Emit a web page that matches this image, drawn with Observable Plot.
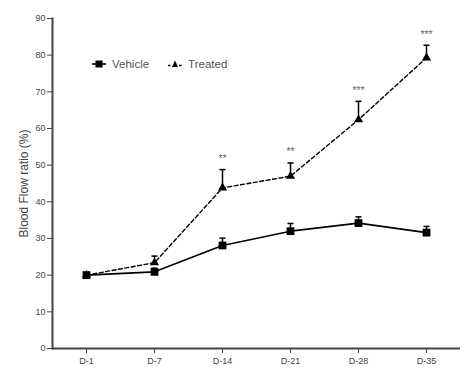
<!DOCTYPE html>
<html>
<head>
<meta charset="utf-8">
<script src="https://cdn.jsdelivr.net/npm/d3@7"></script>
<script src="https://cdn.jsdelivr.net/npm/@observablehq/plot@0.6"></script>
<style>
  body { margin: 0; background: #fff; }
  #wrap { position: relative; width: 467px; height: 385px; font-family: "Liberation Sans", Arial, sans-serif; }
  #legend { position: absolute; left: 91px; top: 58px; display: flex; font-size: 11.5px; color: #555; align-items: center; }
  #legend span.item { display: flex; align-items: center; gap: 5px; }
</style>
</head>
<body>
<div id="wrap"></div>
<script>
const days = ["D-1", "D-7", "D-14", "D-21", "D-28", "D-35"];
const vehicle = [20.0, 20.9, 28.1, 32.0, 34.2, 31.6];
const vehicleErr = [0.8, 1.0, 2.0, 2.1, 1.7, 1.7];
const treated = [20.0, 23.4, 43.8, 47.0, 62.4, 79.3];
const treatedErr = [0.6, 1.8, 5.0, 3.6, 5.0, 3.4];
const stars = ["", "", "**", "**", "***", "***"];

const vData = days.map((d, i) => ({day: d, v: vehicle[i], e: vehicleErr[i]}));
const tData = days.map((d, i) => ({day: d, v: treated[i], e: treatedErr[i], s: stars[i]}));

const cap = {draw(ctx, size) { const w = Math.sqrt(size) / 2; ctx.moveTo(-w, 0); ctx.lineTo(w, 0); }};

const chart = Plot.plot({
  width: 467,
  height: 385,
  marginLeft: 52,
  marginRight: 7,
  marginTop: 18,
  marginBottom: 37,
  style: {fontFamily: "'Liberation Sans', Arial, sans-serif", background: "#fff", color: "#444"},
  x: {type: "point", domain: days, padding: 0.5, label: null},
  y: {domain: [0, 90], label: null},
  marks: [
    Plot.axisY({ticks: d3.range(0, 91, 10), tickSize: 5, tickPadding: 2, fontSize: 9, label: null}),
    Plot.axisY({ticks: [], tickSize: 0, fontSize: 12, label: "Blood Flow ratio (%)", labelAnchor: "center", labelArrow: false, labelOffset: 33}),
    Plot.axisX({tickSize: 5, tickPadding: 4, fontSize: 9, label: null}),
    Plot.ruleY([0], {stroke: "#444", strokeWidth: 2}),
    Plot.frame({anchor: "left", stroke: "#444", strokeWidth: 2}),
    // error bars
    Plot.ruleX(vData, {x: "day", y1: "v", y2: d => d.v + d.e, stroke: "#000", strokeWidth: 1.5}),
    Plot.dot(vData, {x: "day", y: d => d.v + d.e, symbol: cap, r: 3.4, stroke: "#000", strokeWidth: 1.5}),
    Plot.ruleX(tData, {x: "day", y1: "v", y2: d => d.v + d.e, stroke: "#000", strokeWidth: 1.5}),
    Plot.dot(tData, {x: "day", y: d => d.v + d.e, symbol: cap, r: 3.4, stroke: "#000", strokeWidth: 1.5}),
    // lines
    Plot.line(tData, {x: "day", y: "v", stroke: "#000", strokeWidth: 1.4, strokeDasharray: "4,2.5"}),
    Plot.line(vData, {x: "day", y: "v", stroke: "#000", strokeWidth: 1.6}),
    // markers
    Plot.dot(vData, {x: "day", y: "v", symbol: "square", r: 4.4, fill: "#000", stroke: "none"}),
    Plot.dot(tData, {x: "day", y: "v", symbol: "triangle", r: 3.4, fill: "#000", stroke: "none"}),
    // significance stars
    Plot.text(tData, {x: "day", y: d => d.v + d.e, text: "s", dy: -11, fontSize: 10.5, fill: "#666"})
  ]
});

const wrap = document.getElementById("wrap");
wrap.appendChild(chart);

const legend = document.createElement("div");
legend.id = "legend";
legend.innerHTML = `
  <span class="item"><svg width="16" height="10"><line x1="1" y1="5" x2="15" y2="5" stroke="#000" stroke-width="1.6"/><rect x="4.5" y="1.5" width="7" height="7" fill="#000"/></svg><span>Vehicle</span></span>
  <span class="item" style="margin-left:18px"><svg width="16" height="10"><line x1="1" y1="6.5" x2="15" y2="6.5" stroke="#000" stroke-width="1.4" stroke-dasharray="2.5,3"/><path d="M8,1.5 L11,8 L5,8 Z" fill="#000"/></svg><span>Treated</span></span>`;
wrap.appendChild(legend);
</script>
</body>
</html>
